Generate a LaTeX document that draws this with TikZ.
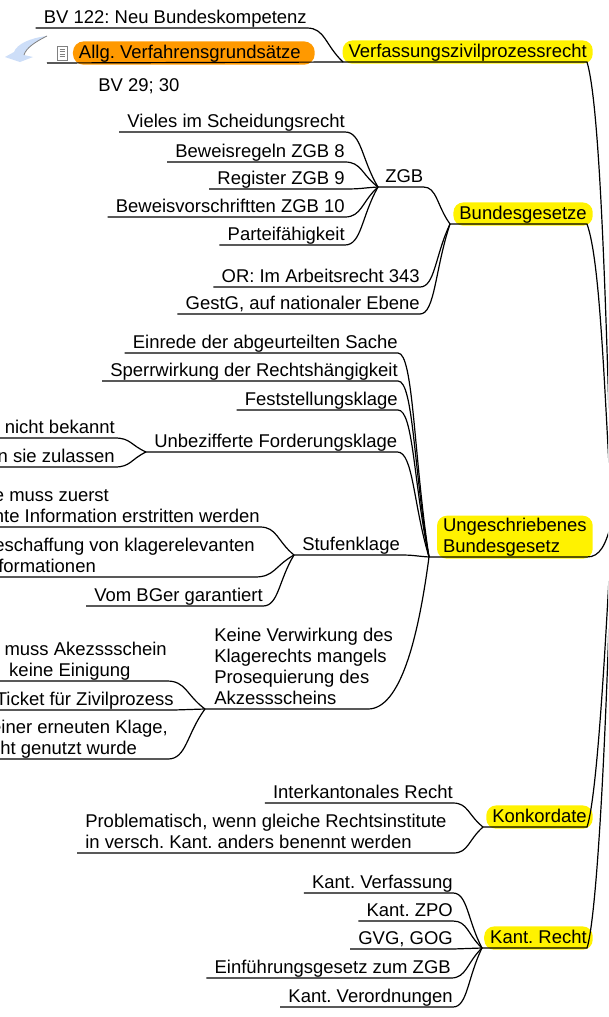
\documentclass[tikz,border=0pt]{standalone}
\usepackage{fontspec}
\setmainfont{Liberation Sans}
\usetikzlibrary{calc}

\definecolor{iconblue}{RGB}{205,222,248}
\definecolor{markorange}{RGB}{255,153,0}
\newcommand{\lowpart}{\rule[-3.5pt]{0pt}{3.5pt}}
\newcommand{\twig}[2]{\draw[line] ([xshift=-6pt]#1.south west) -- (#1.south east) .. controls ($(#1.south east)!.5!(#1.south east -| #2)$) and ($(#1.south east)!.5!(#2)$) .. (#2);}
\newcommand{\limb}[4]{\draw[line] (#2) -- ([xshift=-4.5pt,yshift=1.5pt]#1.south east) .. controls #3 and #4 .. (root);}

\tikzset{
    line/.style={black, line width=0.9pt},
    leaf/.style={anchor=south east, inner xsep=0pt, inner ysep=0pt, align=left, execute at end node=\lowpart},
    edgeleaf/.style={leaf, anchor=south west},
    topic/.style={anchor=south east, fill=yellow, rounded corners=7.5pt, inner xsep=4.5pt, inner ysep=1.5pt, align=left,
        execute at begin node={\rule{0pt}{11pt}}, execute at end node=\lowpart},
}

\begin{document}
\frenchspacing
\begin{tikzpicture}[x=0.75pt, y=-0.75pt, font=\fontsize{13.85}{15.75}\selectfont]
    \useasboundingbox (0,0) rectangle (608,1017);
    \clip (0,0) rectangle (608,1017);

    \coordinate (root) at (612,520);
    \coordinate (jverf) at (343,62);
    \coordinate (jbund) at (450,224);
    \coordinate (jung) at (429,557);
    \coordinate (jkonk) at (483,827);
    \coordinate (jkant) at (482,948);
    \coordinate (jzgb) at (378,187);
    \coordinate (junbez) at (146,452);
    \coordinate (jstufen) at (294,555);
    \coordinate (jkeine) at (205,709);
    \coordinate (allgstart) at (47,63);
    \coordinate (keinebend) at (368,709);

    % yellow topics
    \node[topic] (verf) at (593,64) {Verfassungszivilprozessrecht};
    \node[topic] (bund) at (593,226) {Bundesgesetze};
    \node[topic] (unges) at (593,559) {Ungeschriebenes\\Bundesgesetz};
    \node[topic] (konk) at (593,829) {Konkordate};
    \node[topic] (kant) at (593,950) {Kant. Recht};

    \limb{verf}{jverf}{(600,105)}{(606,300)}
    \limb{bund}{jbund}{(600,260)}{(604,380)}
    \limb{unges}{jung}{(600,557)}{(606,545)}
    \limb{konk}{jkonk}{(596,800)}{(604,680)}
    \limb{kant}{jkant}{(596,920)}{(606,760)}

    % top
    \node[leaf] (neu) at (307,28) {BV 122: Neu Bundeskompetenz};
    \node[topic, fill=markorange, rounded corners=8pt] (allg) at (315,65) {Allg. Verfahrensgrundsätze\hspace*{6pt}};
    \node[anchor=base west, inner sep=0pt] (bvart) at (98,91) {BV 29; 30};
    \twig{neu}{jverf}
    \draw[line] (allgstart) -- (jverf);

    \fill[iconblue] (47,36) .. controls (30,38) and (17,44) .. (14,52) -- (5,57) -- (20,62) -- (33,57) -- (24,55) .. controls (26,48) and (35,42) .. (47,36) -- cycle;
    \draw[gray, line width=0.6pt] (47,36) .. controls (35,42) and (26,48) .. (24,55);
    \filldraw[draw=gray, fill=white, line width=0.5pt] (57.5,46) rectangle (67,60);
    \foreach \y in {49,51.5,54,56.5} {
        \draw[gray, line width=0.5pt] (59.5,\y) -- (65,\y);
    }

    % Bundesgesetze
    \node[edgeleaf] (zgb) at (385,187) {ZGB};
    \node[leaf] (vieles) at (345,132) {Vieles im Scheidungsrecht};
    \node[leaf] (regeln) at (345,162) {Beweisregeln ZGB 8};
    \node[leaf] (register) at (345,189) {Register ZGB 9};
    \node[leaf] (vorschr) at (345,217) {Beweisvorschriftten ZGB 10};
    \node[leaf] (partei) at (345,245) {Parteifähigkeit};
    \node[leaf] (ora) at (420,287) {OR: Im Arbeitsrecht 343};
    \node[leaf] (gestg) at (420,314) {GestG, auf nationaler Ebene};
    \foreach \n in {vieles,regeln,register,vorschr,partei} {
        \twig{\n}{jzgb}
    }
    \foreach \n in {zgb,ora,gestg} {
        \twig{\n}{jbund}
    }

    % Ungeschriebenes Bundesgesetz
    \node[leaf] (einrede) at (398,353) {Einrede der abgeurteilten Sache};
    \node[leaf] (sperr) at (398,381) {Sperrwirkung der Rechtshängigkeit};
    \node[leaf] (fest) at (398,410) {Feststellungsklage};
    \node[edgeleaf] (unbez) at (154,452) {Unbezifferte Forderungsklage};
    \node[edgeleaf] (stufen) at (302,555) {Stufenklage};
    \node[edgeleaf] (keine) at (214,709) {Keine Verwirkung des\\Klagerechts mangels\\Prosequierung des\\Akzessscheins};
    \foreach \n in {einrede,sperr,fest,unbez,stufen} {
        \twig{\n}{jung}
    }
    \draw[line] (jkeine) -- (keinebend) .. controls (400,709) and (418,640) .. (jung);

    \node[leaf] (bekannt) at (115,438) {nicht bekannt};
    \node[leaf] (zulassen) at (115,467) {n sie zulassen};
    \foreach \n in {bekannt,zulassen} {
        \twig{\n}{junbez}
    }

    \node[leaf] (zuerst) at (260,527) {e muss zuerst\\nte Information erstritten werden};
    \node[leaf] (beschaff) at (255,577) {eschaffung von klagerelevanten\\\hspace*{3pt}formationen};
    \node[leaf] (bger) at (263,606) {Vom BGer garantiert};
    \foreach \n in {zuerst,beschaff,bger} {
        \twig{\n}{jstufen}
    }

    \node[leaf] (schein) at (167,681) {muss Akezssschein\\\hspace*{3.5pt}keine Einigung};
    \node[leaf] (ticket) at (174,710) {Ticket für Zivilprozess};
    \node[leaf] (erneut) at (168,759) {einer erneuten Klage,\\cht genutzt wurde};
    \foreach \n in {schein,ticket,erneut} {
        \twig{\n}{jkeine}
    }

    % Konkordate
    \node[leaf] (inter) at (453,803) {Interkantonales Recht};
    \node[edgeleaf] (probl) at (85,853) {Problematisch, wenn gleiche Rechtsinstitute\hspace*{5pt}\\in versch. Kant. anders benennt werden};
    \foreach \n in {inter,probl} {
        \twig{\n}{jkonk}
    }

    % Kant. Recht
    \node[leaf] (kverf) at (453,893) {Kant. Verfassung};
    \node[leaf] (kzpo) at (453,921) {Kant. ZPO};
    \node[leaf] (gvg) at (453,949) {GVG, GOG};
    \node[leaf] (einf) at (451,978) {Einführungsgesetz zum ZGB};
    \node[leaf] (kvo) at (453,1007) {Kant. Verordnungen};
    \foreach \n in {kverf,kzpo,gvg,einf,kvo} {
        \twig{\n}{jkant}
    }
\end{tikzpicture}
\end{document}
